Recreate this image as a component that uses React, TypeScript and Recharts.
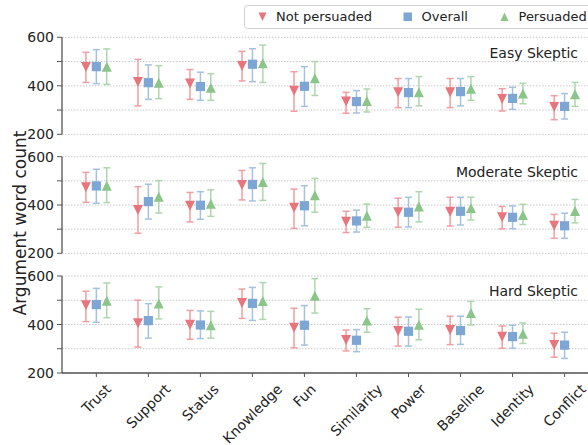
import React from 'react';
import { ScatterChart, Scatter, XAxis, YAxis, CartesianGrid, ErrorBar } from 'recharts';

const categories = ['Trust', 'Support', 'Status', 'Knowledge', 'Fun', 'Similarity', 'Power', 'Baseline', 'Identity', 'Conflict'];
const yTicks = [200, 300, 400, 500, 600];
const yLabels = [200, 400, 600];
const seriesNames = ['Not persuaded', 'Overall', 'Persuaded'];
const panelTitles = ['Easy Skeptic', 'Moderate Skeptic', 'Hard Skeptic'];

// Easy Skeptic
const easyNotMean = [478, 416, 409, 482, 380, 335, 373, 373, 346, 313];
const easyNotLo = [414, 317, 344, 420, 295, 287, 310, 310, 296, 260];
const easyNotHi = [538, 509, 467, 542, 458, 373, 430, 430, 388, 359];
const easyAllMean = [479, 413, 397, 489, 398, 335, 372, 376, 348, 315];
const easyAllLo = [409, 344, 340, 417, 315, 288, 310, 317, 303, 263];
const easyAllHi = [549, 486, 456, 553, 479, 380, 430, 430, 394, 368];
const easyPerMean = [479, 413, 392, 493, 431, 337, 373, 388, 368, 365];
const easyPerLo = [406, 347, 340, 414, 360, 292, 317, 340, 326, 315];
const easyPerHi = [552, 483, 450, 568, 500, 387, 438, 438, 410, 414];

// Moderate Skeptic
const modNotMean = [474, 379, 397, 483, 389, 331, 370, 372, 349, 314];
const modNotLo = [411, 283, 330, 421, 303, 286, 308, 313, 301, 262];
const modNotHi = [535, 476, 452, 543, 466, 374, 428, 432, 394, 361];
const modAllMean = [479, 414, 399, 485, 397, 334, 370, 374, 349, 314];
const modAllLo = [407, 342, 341, 417, 314, 288, 309, 317, 302, 262];
const modAllHi = [548, 486, 455, 554, 480, 379, 432, 432, 396, 366];
const modPerMean = [480, 434, 405, 495, 440, 356, 394, 388, 359, 375];
const modPerLo = [410, 367, 353, 419, 370, 308, 330, 338, 319, 326];
const modPerHi = [554, 501, 463, 572, 510, 404, 455, 432, 403, 423];

// Hard Skeptic
const hardNotMean = [479, 405, 399, 489, 387, 336, 373, 377, 350, 315];
const hardNotLo = [412, 307, 339, 425, 304, 291, 311, 317, 302, 265];
const hardNotHi = [537, 500, 458, 546, 467, 377, 430, 434, 394, 364];
const hardAllMean = [482, 416, 398, 487, 397, 335, 372, 375, 350, 315];
const hardAllLo = [409, 344, 342, 417, 315, 288, 311, 318, 302, 260];
const hardAllHi = [549, 486, 456, 553, 478, 379, 431, 434, 397, 368];
const hardPerMean = [498, 487, 397, 497, 519, 416, 399, 447, 362, null];
const hardPerLo = [428, 423, 344, 421, 447, 368, 337, 398, 322, null];
const hardPerHi = [571, 555, 454, 573, 589, 465, 463, 495, 406, null];

const COLORS = ['#E8747C', '#7EA6D4', '#8BC58A'];
const ERR_COLORS = ['#EF9EA3', '#A5C1E1', '#AED6AD'];
const OFFSETS = [-0.2, 0, 0.2];
const FONT = "'DejaVu Sans', sans-serif";

type Pt = { x: number; y: number; err: [number, number] };

function buildSeries(mean: (number | null)[], lo: (number | null)[], hi: (number | null)[], off: number): Pt[] {
  const out: Pt[] = [];
  categories.forEach((_, i) => {
    const m = mean[i];
    const l = lo[i];
    const h = hi[i];
    if (m == null || l == null || h == null) return;
    out.push({ x: i + off, y: m, err: [m - l, h - m] });
  });
  return out;
}

const panels = [
  [
    buildSeries(easyNotMean, easyNotLo, easyNotHi, OFFSETS[0]),
    buildSeries(easyAllMean, easyAllLo, easyAllHi, OFFSETS[1]),
    buildSeries(easyPerMean, easyPerLo, easyPerHi, OFFSETS[2]),
  ],
  [
    buildSeries(modNotMean, modNotLo, modNotHi, OFFSETS[0]),
    buildSeries(modAllMean, modAllLo, modAllHi, OFFSETS[1]),
    buildSeries(modPerMean, modPerLo, modPerHi, OFFSETS[2]),
  ],
  [
    buildSeries(hardNotMean, hardNotLo, hardNotHi, OFFSETS[0]),
    buildSeries(hardAllMean, hardAllLo, hardAllHi, OFFSETS[1]),
    buildSeries(hardPerMean, hardPerLo, hardPerHi, OFFSETS[2]),
  ],
];

const TriDown = (props: any) => {
  const { cx, cy, fill } = props;
  const s = 5;
  return <polygon points={`${cx - s},${cy - s} ${cx + s},${cy - s} ${cx},${cy + s}`} fill={fill} />;
};
const TriUp = (props: any) => {
  const { cx, cy, fill } = props;
  const s = 5;
  return <polygon points={`${cx - s},${cy + s} ${cx + s},${cy + s} ${cx},${cy - s}`} fill={fill} />;
};
const Sq = (props: any) => {
  const { cx, cy, fill } = props;
  const s = 4.6;
  return <rect x={cx - s} y={cy - s} width={2 * s} height={2 * s} fill={fill} />;
};
const SHAPES = [TriDown, Sq, TriUp];

const YTick = (props: any) => {
  const { x, y, payload } = props;
  if (!yLabels.includes(payload.value)) return <g />;
  return (
    <text x={x} y={y} dy="0.36em" textAnchor="end" fontSize={14} fill="#222" fontFamily={FONT}>
      {payload.value}
    </text>
  );
};

let ctx: CanvasRenderingContext2D | null = null;
function measure(t: string): number {
  if (!ctx) ctx = document.createElement('canvas').getContext('2d');
  if (!ctx) return t.length * 8;
  ctx.font = "14px 'DejaVu Sans'";
  return ctx.measureText(t).width;
}

const XTick = (props: any) => {
  const { x, y, payload } = props;
  const label = categories[Math.round(payload.value)] ?? '';
  const w = measure(label);
  const h = 16;
  const cy = y + 1 + (w + h) / (2 * Math.SQRT2);
  return (
    <text
      x={x}
      y={cy}
      dy="0.35em"
      textAnchor="middle"
      fontSize={14}
      fill="#222"
      fontFamily={FONT}
      transform={`rotate(-45, ${x}, ${cy})`}
    >
      {label}
    </text>
  );
};

const layouts = [
  { top: 0, height: 145, mt: 37.3, mb: 10.7 },
  { top: 145, height: 120, mt: 11.7, mb: 11.7 },
  { top: 265, height: 180, mt: 11, mb: 0 },
];

function Panel({ idx }: { idx: number }) {
  const L = layouts[idx];
  const showX = idx === 2;
  return (
    <div style={{ position: 'absolute', left: 0, top: L.top }}>
      <ScatterChart width={588} height={L.height} margin={{ top: L.mt, right: 0, bottom: L.mb, left: 0 }}>
        <CartesianGrid vertical={false} stroke="#c8c8c8" strokeDasharray="1.5 1.5" />
        <XAxis
          type="number"
          dataKey="x"
          domain={[-0.66, 9.45]}
          ticks={categories.map((_, i) => i)}
          allowDataOverflow
          hide={!showX}
          height={72}
          interval={0}
          tickSize={4}
          tickMargin={3}
          stroke="#555"
          tickLine={{ stroke: '#555' }}
          axisLine={{ stroke: '#555', strokeWidth: 1.3 }}
          tick={<XTick />}
        />
        <YAxis
          type="number"
          dataKey="y"
          domain={[200, 600]}
          ticks={yTicks}
          allowDataOverflow
          width={62}
          interval={0}
          tickSize={5}
          tickMargin={3}
          tickLine={{ stroke: '#555' }}
          axisLine={{ stroke: '#555', strokeWidth: 1.3 }}
          tick={<YTick />}
        />
        {panels[idx].map((data, s) => (
          <Scatter
            key={s}
            name={seriesNames[s]}
            data={data}
            fill={COLORS[s]}
            shape={SHAPES[s]}
            isAnimationActive={false}
          >
            <ErrorBar dataKey="err" direction="y" width={3.5} stroke={ERR_COLORS[s]} strokeWidth={1.5} />
          </Scatter>
        ))}
      </ScatterChart>
    </div>
  );
}

const titleBaselines = [57.5, 176.7, 295.7];

export default function App() {
  return (
    <div style={{ position: 'absolute', left: 0, top: 0, width: 588, height: 445, overflow: 'hidden', background: '#fff' }}>
      {[0, 1, 2].map((i) => (
        <Panel key={i} idx={i} />
      ))}
      <svg width={588} height={445} style={{ position: 'absolute', left: 0, top: 0, pointerEvents: 'none' }}>
        {panelTitles.map((t, i) => (
          <text key={t} x={578} y={titleBaselines[i]} textAnchor="end" fontSize={14} fill="#222" fontFamily={FONT}>
            {t}
          </text>
        ))}
        <text
          x={26}
          y={223}
          textAnchor="middle"
          fontSize={17}
          fill="#222"
          fontFamily={FONT}
          transform="rotate(-90, 26, 223)"
        >
          Argument word count
        </text>
        <rect x={244.5} y={5.5} width={360} height={23} rx={3} fill="#fff" fillOpacity={0.85} stroke="#d0d0d0" />
        <polygon points="258.5,12.5 266.5,12.5 262.5,21" fill={COLORS[0]} />
        <text x={276} y={20.5} fontSize={13} fill="#222" fontFamily={FONT}>{seriesNames[0]}</text>
        <rect x={403.5} y={12.5} width={8.5} height={8.5} fill={COLORS[1]} />
        <text x={421.5} y={20.5} fontSize={13} fill="#222" fontFamily={FONT}>{seriesNames[1]}</text>
        <polygon points="500.5,21 508.5,21 504.5,12.5" fill={COLORS[2]} />
        <text x={518.5} y={20.5} fontSize={13} fill="#222" fontFamily={FONT}>{seriesNames[2]}</text>
      </svg>
    </div>
  );
}
